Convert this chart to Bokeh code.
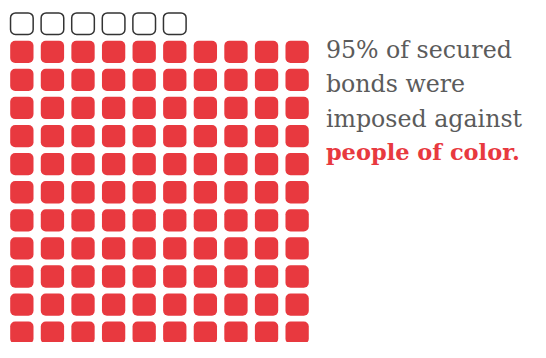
from bokeh.plotting import figure
from bokeh.models import Range1d
from bokeh.core.properties import value
from bokeh.embed import file_html
from bokeh.resources import INLINE

# ---- data ----
n_cols = 10
empty_count = 6          # outlined squares (top row)
filled_count = 110       # red squares visible
caption_lines = ["95% of secured", "bonds were", "imposed against"]
highlight_line = "people of color."

RED = "#e8393f"
GRAY = "#5b5b5b"

ex = [i % n_cols for i in range(empty_count)]
ey = [i // n_cols for i in range(empty_count)]
fx = [i % n_cols for i in range(filled_count)]
fy = [1 + i // n_cols for i in range(filled_count)]

p = figure(width=530, height=342, output_backend="svg", toolbar_location=None,
           x_range=Range1d(-0.698, 16.63), y_range=Range1d(11.35, -0.827),
           min_border=0, min_border_left=0, min_border_right=0,
           min_border_top=0, min_border_bottom=0)
p.axis.visible = False
p.grid.visible = False
p.outline_line_color = None

p.rect(x=fx, y=fy, width=0.762, height=0.793,
       fill_color=RED, line_color=None, border_radius=5)
p.rect(x=ex, y=ey, width=0.74, height=0.77,
       fill_color="white", line_color="#333333", line_width=1.5, border_radius=5)

tx = 9.94
ty = [0.92, 2.14, 3.39]
p.text(x=[tx] * len(caption_lines), y=ty, text=caption_lines,
       text_font=value("DejaVu Serif"), text_font_size="23.7px", text_color=GRAY,
       text_baseline="alphabetic", text_align="left")
p.text(x=[tx], y=[4.58], text=[highlight_line],
       text_font=value("DejaVu Serif"), text_font_size="22.5px", text_font_style="bold",
       text_color=RED, text_baseline="alphabetic", text_align="left")

open("out.html", "w").write(file_html(p, INLINE))
